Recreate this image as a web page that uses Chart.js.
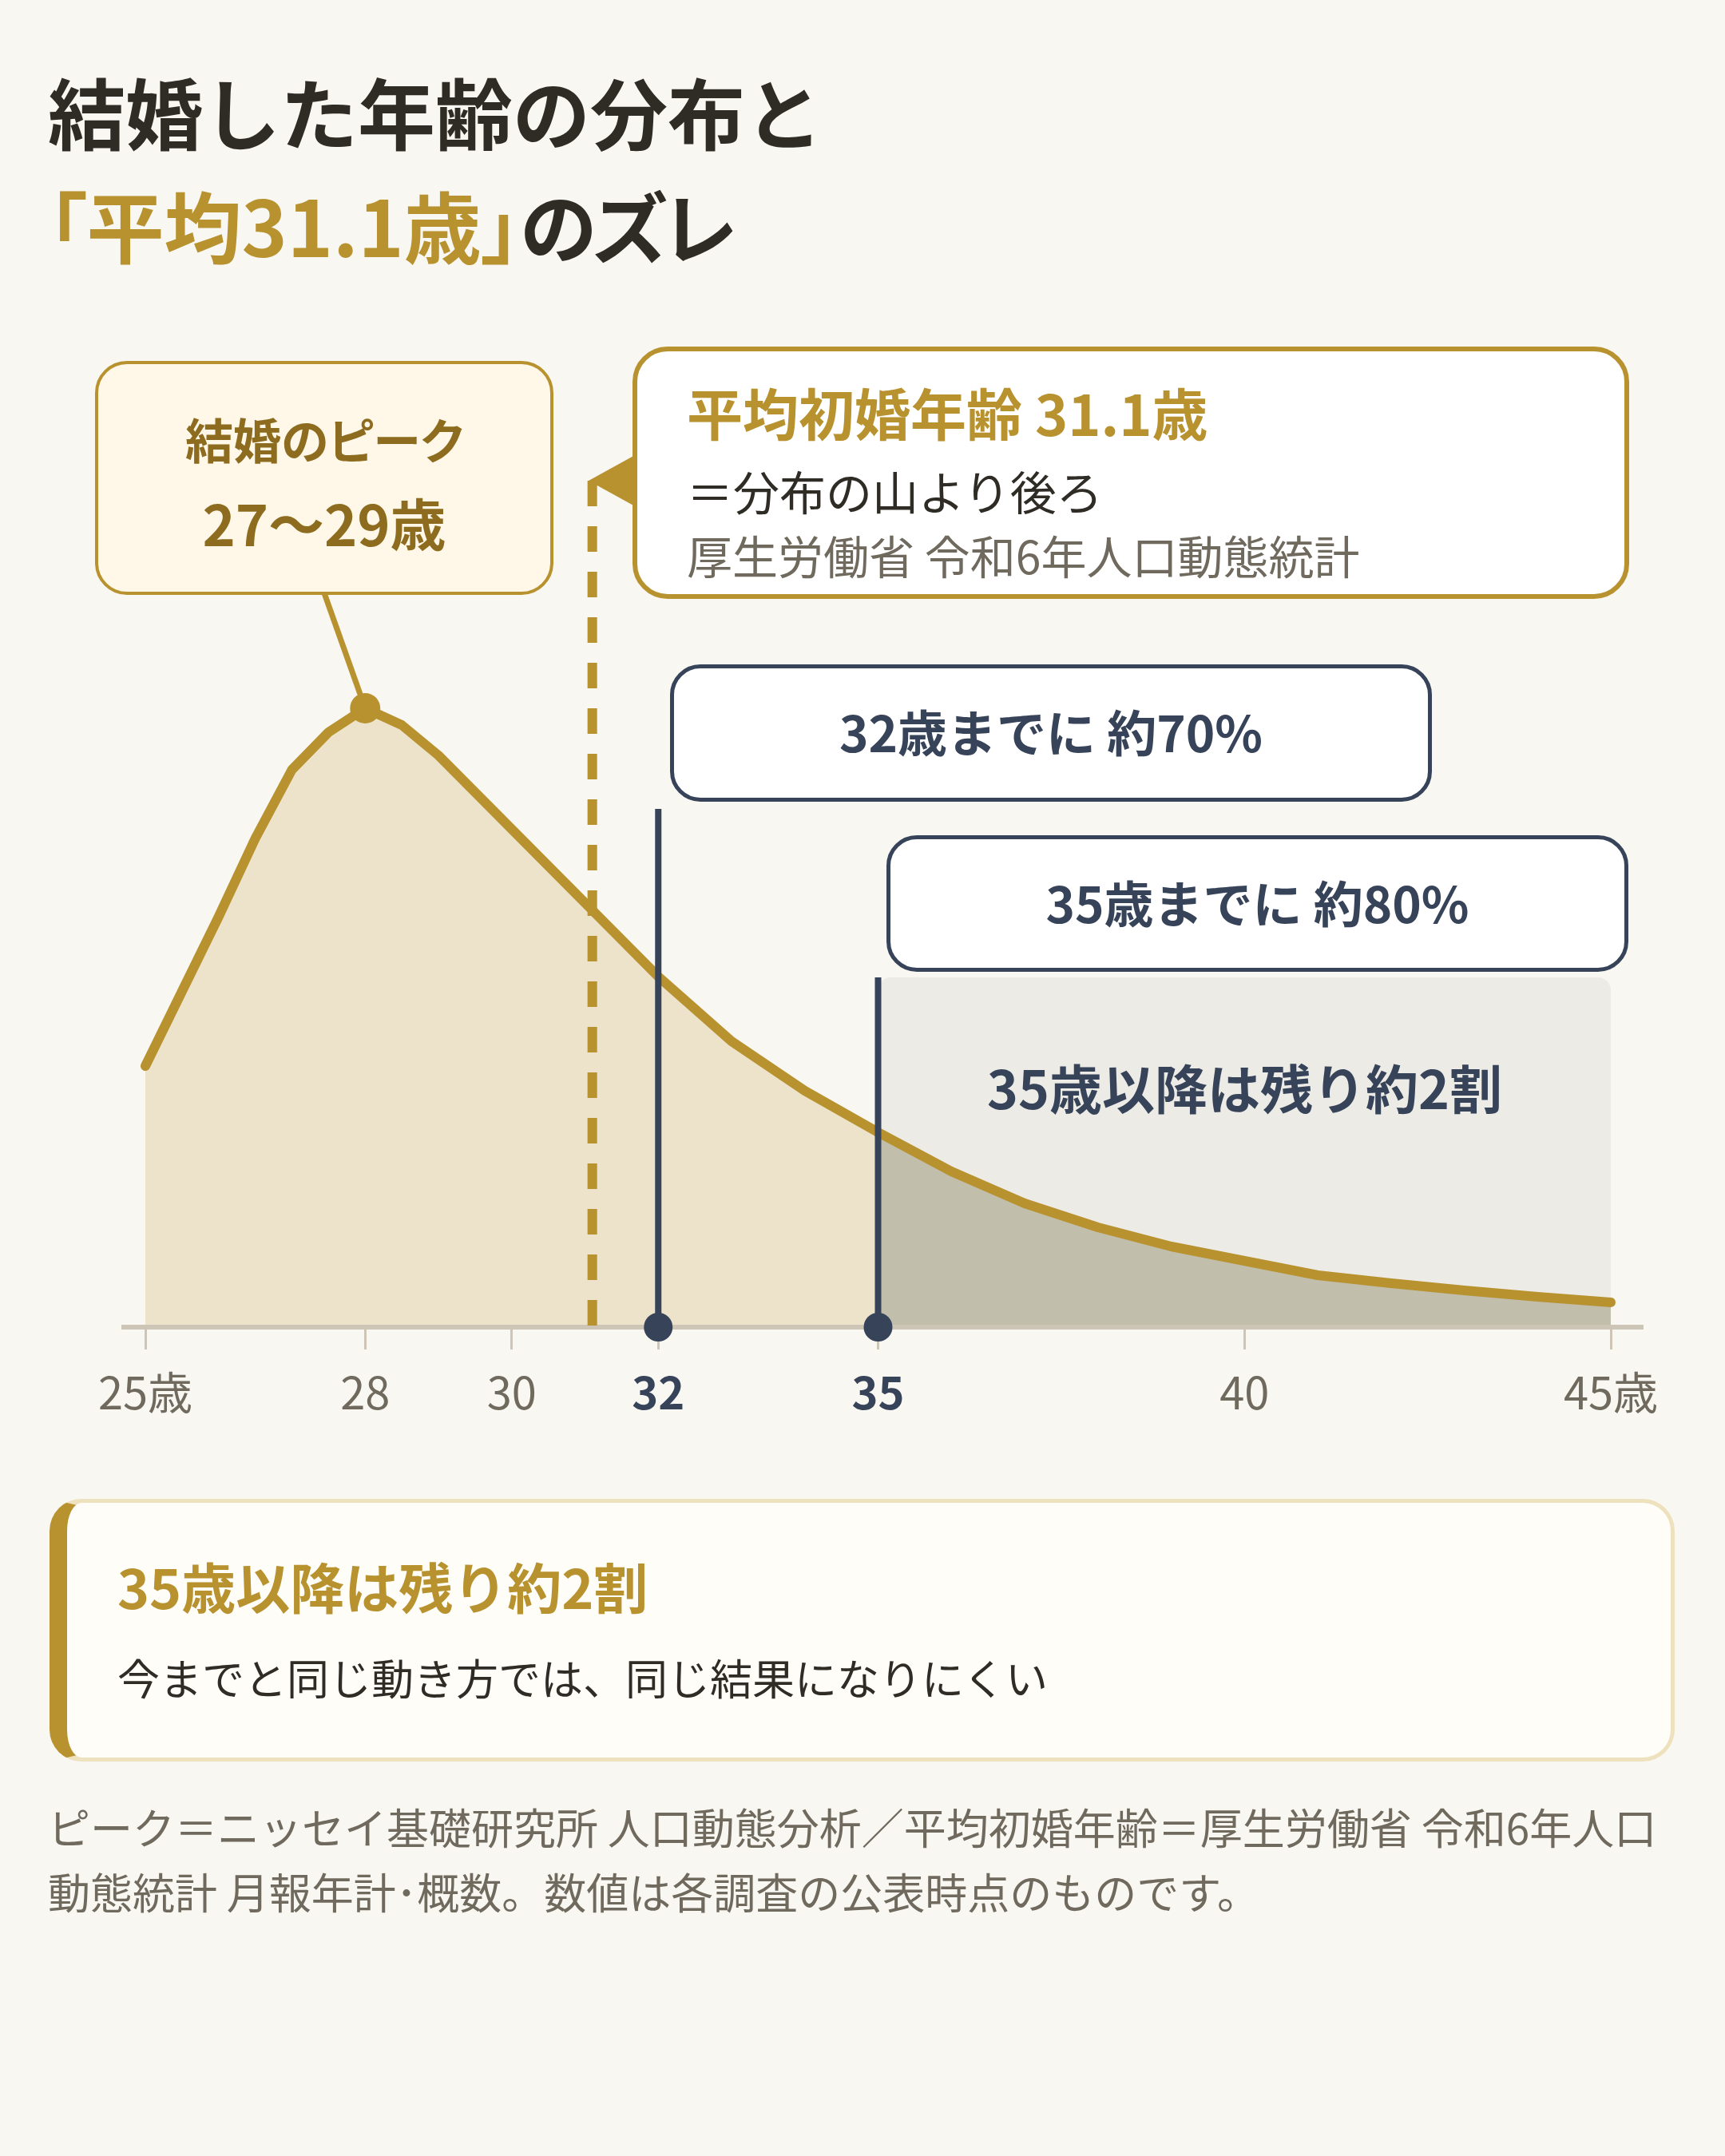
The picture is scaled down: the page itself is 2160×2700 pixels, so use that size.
<!DOCTYPE html>
<html lang="ja">
<head>
<meta charset="utf-8">
<script src="https://cdn.jsdelivr.net/npm/chart.js@4.4.1/dist/chart.umd.min.js"></script>
<style>
  html, body { margin: 0; padding: 0; }
  body {
    width: 2160px; height: 2700px; position: relative; overflow: hidden;
    background: #f9f7f2; color: #2f2c26;
    font-family: "Noto Sans CJK JP", "Noto Sans", sans-serif;
  }
  .abs { position: absolute; box-sizing: border-box; }
  .t { position: absolute; line-height: 1; white-space: nowrap; }
  .palt { font-feature-settings: "palt" 1; }
  #chartWrap { position: absolute; left: 0; top: 0; width: 2160px; height: 1800px; }

  .title { left: 60px; font-size: 97px; font-weight: 700; }
  .gold { color: #b8922f; }

  .peak { left: 119px; top: 452px; width: 574px; height: 293px; border: 4px solid #b8922f;
          border-radius: 40px; background: #fff8e9; }
  .peakTxt { left: 119px; width: 574px; text-align: center; font-weight: 700; color: #8e6c1f; }

  .mean { left: 792px; top: 434px; width: 1248px; height: 316px; border: 6px solid #b8922f;
          border-radius: 44px; background: #ffffff; }
  .tri { left: 737px; top: 570px; width: 58px; height: 64px; background: #b8922f;
         clip-path: polygon(0 50%, 100% 0, 100% 100%); }

  .mile { border: 5px solid #364359; border-radius: 38px; background: #ffffff; }
  .mileTxt { text-align: center; font-size: 62px; font-weight: 700; color: #364359; }

  .note { left: 62px; top: 1877px; width: 2035px; height: 329px; border: 5px solid #eee1be;
          border-left: 22px solid #b8922f; border-radius: 40px; background: #fffdf7; }
  .foot { left: 60px; top: 2247px; font-size: 53px; line-height: 81px; color: #706a5e; white-space: nowrap; }
</style>
</head>
<body>

<div id="chartWrap"><canvas id="chart"></canvas></div>

<div class="t title" style="top:89px;">結婚した年齢の分布と</div>
<div class="t title palt" style="top:231px;"><span class="gold">「平均31.1歳」</span><span style="letter-spacing:-0.05em;">のズレ</span></div>

<div class="abs peak"></div>
<div class="t peakTxt palt" style="top:519px; font-size:60px;">結婚のピーク</div>
<div class="t peakTxt" style="top:619px; font-size:70px;">27〜29歳</div>

<div class="abs tri"></div>
<div class="abs mean"></div>
<div class="t" style="left:860px; top:481px; font-size:70px; font-weight:700; color:#b8922f;">平均初婚年齢 31.1歳</div>
<div class="t" style="left:860px; top:585px; font-size:58px; color:#2f2c26;">＝分布の山より後ろ</div>
<div class="t" style="left:860px; top:666px; font-size:57px; color:#706a5e;">厚生労働省 令和6年人口動態統計</div>

<div class="abs mile" style="left:839px; top:832px; width:954px; height:172px;"></div>
<div class="t mileTxt" style="left:839px; width:954px; top:884px;">32歳までに 約70%</div>
<div class="abs mile" style="left:1110px; top:1046px; width:929px; height:171px;"></div>
<div class="t mileTxt" style="left:1110px; width:929px; top:1098px;">35歳までに 約80%</div>

<div class="t mileTxt" style="left:1100px; width:917px; top:1327px; font-size:66px;">35歳以降は残り約2割</div>

<div class="abs note"></div>
<div class="t" style="left:147px; top:1952px; font-size:68px; font-weight:700; color:#b8922f;">35歳以降は残り約2割</div>
<div class="t" style="left:147px; top:2074px; font-size:53px; color:#2f2c26;">今までと同じ動き方では、同じ結果になりにくい</div>

<div class="abs foot">ピーク＝ニッセイ基礎研究所 人口動態分析／平均初婚年齢＝厚生労働省 令和6年人口<br>動態統計 月報年計･概数。数値は各調査の公表時点のものです。</div>

<script>
// 年齢（歳）と、その年齢で結婚した人の相対的な割合（図から読んだ値）
const ages  = [25, 26, 26.5, 27, 27.5, 28, 28.5, 29, 32, 33, 34, 35, 36, 37, 38, 39, 40, 41, 42, 43, 44, 45];
const share = [3.27, 5.14, 6.12, 6.98, 7.45, 7.75, 7.54, 7.16, 4.39, 3.58, 2.96, 2.44, 1.95, 1.55, 1.25, 1.01, 0.83, 0.65, 0.55, 0.46, 0.38, 0.31];

// x軸の目盛り
const tickAges = [25, 28, 30, 32, 35, 40, 45];
const boldTicks = [32, 35];

// 注記に使う値
const peakAge = 28;
const meanAge = 31.1;
const markAges = [32, 35];
const markTops = [6.49, 4.38];
const bandFrom = 35, bandTo = 45;
const leaderEnd = [27.4, 9.3];
const yMax = 10.6;

const GOLD = '#b8922f';
const NAVY = '#364359';
const BEIGE = '#ede3cb';
const GREYFILL = '#c2beac';
const BAND = '#ecebe6';
const AXIS = '#cdc5b5';
const FONT = '"Noto Sans CJK JP", "Noto Sans", sans-serif';

const isBold = c => !!(c && c.tick && boldTicks.includes(c.tick.value));

const annotations = {
  id: 'annotations',
  beforeDatasetsDraw(chart) {
    const { ctx, scales: { x, y } } = chart;
    ctx.save();
    // 35歳以降の帯
    const bx0 = x.getPixelForValue(bandFrom), bx1 = x.getPixelForValue(bandTo);
    const by0 = y.getPixelForValue(markTops[1]), by1 = y.getPixelForValue(0);
    ctx.fillStyle = BAND;
    ctx.beginPath();
    ctx.roundRect(bx0, by0, bx1 - bx0, by1 - by0, 16);
    ctx.fill();
    // ピークの引き出し線
    const pi = ages.indexOf(peakAge);
    ctx.strokeStyle = GOLD;
    ctx.lineWidth = 7;
    ctx.beginPath();
    ctx.moveTo(x.getPixelForValue(peakAge), y.getPixelForValue(share[pi]));
    ctx.lineTo(x.getPixelForValue(leaderEnd[0]), y.getPixelForValue(leaderEnd[1]));
    ctx.stroke();
    ctx.restore();
  },
  afterDatasetsDraw(chart) {
    const { ctx, chartArea, scales: { x, y } } = chart;
    const base = y.getPixelForValue(0);
    ctx.save();
    // 軸線
    ctx.strokeStyle = AXIS;
    ctx.lineWidth = 6;
    ctx.beginPath();
    ctx.moveTo(chartArea.left - 30, base);
    ctx.lineTo(chartArea.right + 41, base);
    ctx.stroke();
    // 平均初婚年齢の破線
    const mx = x.getPixelForValue(meanAge);
    ctx.strokeStyle = GOLD;
    ctx.lineWidth = 12;
    ctx.setLineDash([32, 25]);
    ctx.beginPath();
    ctx.moveTo(mx, y.getPixelForValue(yMax));
    ctx.lineTo(mx, base);
    ctx.stroke();
    ctx.setLineDash([]);
    // 32歳・35歳の縦線
    ctx.strokeStyle = NAVY;
    ctx.fillStyle = NAVY;
    ctx.lineWidth = 8;
    markAges.forEach((a, i) => {
      const px = x.getPixelForValue(a);
      ctx.beginPath();
      ctx.moveTo(px, y.getPixelForValue(markTops[i]));
      ctx.lineTo(px, base);
      ctx.stroke();
      ctx.beginPath();
      ctx.arc(px, base, 18, 0, Math.PI * 2);
      ctx.fill();
    });
    ctx.restore();
  }
};

new Chart(document.getElementById('chart'), {
  type: 'line',
  data: {
    datasets: [{
      data: ages.map((a, i) => ({ x: a, y: share[i] })),
      borderColor: GOLD,
      borderWidth: 12,
      borderCapStyle: 'round',
      borderJoinStyle: 'round',
      tension: 0,
      fill: 'origin',
      backgroundColor: BEIGE,
      segment: {
        backgroundColor: c => c.p0.parsed.x >= bandFrom ? GREYFILL : BEIGE
      },
      pointRadius: c => ages[c.dataIndex] === peakAge ? 19 : 0,
      pointBackgroundColor: GOLD,
      pointBorderWidth: 0,
      clip: false
    }]
  },
  options: {
    responsive: true,
    maintainAspectRatio: false,
    animation: false,
    events: [],
    layout: { padding: { left: 182, right: 143, top: 602, bottom: 27 } },
    plugins: { legend: { display: false }, tooltip: { enabled: false } },
    scales: {
      x: {
        type: 'linear',
        min: 25,
        max: 45,
        afterBuildTicks: s => { s.ticks = tickAges.map(v => ({ value: v })); },
        afterFit: s => { s.height = 111; },
        border: { display: false },
        grid: { drawOnChartArea: false, drawTicks: true, tickLength: 28, tickWidth: 3, tickColor: AXIS, lineWidth: 3, color: AXIS },
        ticks: {
          autoSkip: false,
          maxRotation: 0,
          padding: 20,
          callback: v => (v === 25 || v === 45) ? v + '歳' : String(v),
          color: c => isBold(c) ? NAVY : '#706a5e',
          font: c => ({ family: FONT, size: 56, weight: isBold(c) ? 'bold' : 'normal' })
        }
      },
      y: { display: false, min: 0, max: yMax }
    }
  },
  plugins: [annotations]
});
</script>
</body>
</html>
